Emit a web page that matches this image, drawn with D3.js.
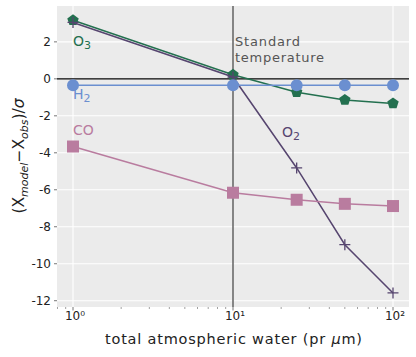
<!DOCTYPE html>
<html>
<head>
<meta charset="utf-8">
<script src="https://cdn.jsdelivr.net/npm/d3@7.9.0/dist/d3.min.js"></script>
<style>
  body { margin: 0; background: #fff; }
  svg text { font-family: "DejaVu Sans", sans-serif; }
</style>
</head>
<body>
<svg id="chart" width="416" height="357"></svg>
<script>
// water column values (pr um)
const water = [1, 10, 25, 50, 100];
const o3 = [3.17, 0.22, -0.72, -1.14, -1.33];
const o2 = [3.05, 0.1, -4.82, -8.97, -11.58];
const h2 = [-0.35, -0.35, -0.35, -0.35, -0.35];
const co = [-3.66, -6.16, -6.54, -6.76, -6.88];
const yTicks = [2, 0, -2, -4, -6, -8, -10, -12];
const xTicks = [1, 10, 100];
const supers = ['⁰', '¹', '²'];

const series = [
    { name: 'O3', values: o3, color: '#23704f', shape: 'pentagon' },
    { name: 'O2', values: o2, color: '#56456f', shape: 'plus' },
    { name: 'H2', values: h2, color: '#6b8fd0', shape: 'circle' },
    { name: 'CO', values: co, color: '#b97c9f', shape: 'square' }
];

const svg = d3.select('#chart');
const margin = { left: 57, right: 7, top: 6, bottom: 50 };
const W = 416, H = 357;

const x = d3.scaleLog()
    .domain([Math.pow(10, -0.1), Math.pow(10, 2.1)])
    .range([margin.left, W - margin.right]);
const y = d3.scaleLinear()
    .domain([-12.34, 3.94])
    .range([H - margin.bottom, margin.top]);

// background
svg.append('rect')
    .attr('x', margin.left).attr('y', margin.top)
    .attr('width', W - margin.left - margin.right)
    .attr('height', H - margin.top - margin.bottom)
    .attr('fill', '#ebebeb');

// grid
svg.selectAll('.gy').data(yTicks).enter().append('line')
    .attr('x1', margin.left).attr('x2', W - margin.right)
    .attr('y1', d => y(d)).attr('y2', d => y(d))
    .attr('stroke', '#fff').attr('stroke-width', 1.1);
svg.selectAll('.gx').data(xTicks).enter().append('line')
    .attr('y1', margin.top).attr('y2', H - margin.bottom)
    .attr('x1', d => x(d)).attr('x2', d => x(d))
    .attr('stroke', '#fff').attr('stroke-width', 1.1);

// y ticks
const yAxis = svg.append('g');
yTicks.forEach(t => {
    yAxis.append('line')
        .attr('x1', margin.left - 3).attr('x2', margin.left)
        .attr('y1', y(t)).attr('y2', y(t))
        .attr('stroke', '#777');
    yAxis.append('text')
        .attr('x', margin.left - 6).attr('y', y(t))
        .attr('dy', '0.36em').attr('text-anchor', 'end')
        .attr('font-size', 12).attr('fill', '#222')
        .text(t < 0 ? '-' + Math.abs(t) : t);
});

// x ticks (major + minor)
const xAxis = svg.append('g');
const minor = [];
for (let e = -1; e <= 2; e++) {
    for (let m = 1; m < 10; m++) {
        const v = m * Math.pow(10, e);
        if (v >= x.domain()[0] && v <= x.domain()[1]) minor.push(v);
    }
}
minor.forEach(v => {
    const major = xTicks.includes(v);
    xAxis.append('line')
        .attr('x1', x(v)).attr('x2', x(v))
        .attr('y1', H - margin.bottom).attr('y2', H - margin.bottom + (major ? 3.5 : 2))
        .attr('stroke', '#777').attr('stroke-width', major ? 1 : 0.7);
});
xTicks.forEach((t, i) => {
    xAxis.append('text')
        .attr('x', x(t) + 2).attr('y', 320)
        .attr('text-anchor', 'middle')
        .attr('font-size', 12).attr('fill', '#222')
        .text('10' + supers[i]);
});

// reference lines
svg.append('line')
    .attr('x1', margin.left).attr('x2', W - margin.right)
    .attr('y1', y(0)).attr('y2', y(0))
    .attr('stroke', '#000').attr('stroke-width', 1.4);
svg.append('line')
    .attr('x1', x(10)).attr('x2', x(10))
    .attr('y1', margin.top).attr('y2', H - margin.bottom)
    .attr('stroke', '#555').attr('stroke-width', 1.4);

const note = svg.append('text')
    .attr('x', x(10) + 3).attr('y', 46)
    .attr('font-size', 13).attr('fill', '#555');
note.append('tspan').attr('x', x(10) + 2).attr('textLength', 65).text('Standard');
note.append('tspan').attr('x', x(10) + 2).attr('dy', 16).attr('textLength', 89).text('temperature');

// series lines + markers
const line = d3.line().x((d, i) => x(water[i])).y(d => y(d));

function pentagon(r) {
    return d3.range(5).map(k => {
        const a = -Math.PI / 2 + k * 2 * Math.PI / 5;
        return [r * Math.cos(a), r * Math.sin(a)];
    });
}

series.forEach(s => {
    svg.append('path')
        .attr('d', line(s.values))
        .attr('fill', 'none')
        .attr('stroke', s.color)
        .attr('stroke-width', 1.5);
    const g = svg.append('g');
    s.values.forEach((v, i) => {
        const cx = x(water[i]), cy = y(v);
        if (s.shape === 'circle') {
            g.append('circle').attr('cx', cx).attr('cy', cy).attr('r', 6).attr('fill', s.color);
        } else if (s.shape === 'square') {
            g.append('rect').attr('x', cx - 6).attr('y', cy - 6)
                .attr('width', 12).attr('height', 12).attr('fill', s.color);
        } else if (s.shape === 'pentagon') {
            g.append('polygon')
                .attr('points', pentagon(6).map(p => [cx + p[0], cy + p[1]].join(',')).join(' '))
                .attr('fill', s.color);
        } else {
            g.append('path')
                .attr('d', `M${cx - 5.5},${cy}H${cx + 5.5}M${cx},${cy - 5.5}V${cy + 5.5}`)
                .attr('stroke', s.color).attr('stroke-width', 1.3);
        }
    });
});

// series labels
const labels = [
    { base: 'O', sub: '3', x: 73, y: 46, color: '#23704f' },
    { base: 'H', sub: '2', x: 73, y: 99, color: '#6b8fd0' },
    { base: 'CO', sub: '', x: 73, y: 135, color: '#b97c9f' },
    { base: 'O', sub: '2', x: 282, y: 137, color: '#56456f' }
];
labels.forEach(l => {
    const t = svg.append('text')
        .attr('x', l.x).attr('y', l.y)
        .attr('font-size', 14).attr('fill', l.color);
    t.append('tspan').text(l.base);
    if (l.sub) t.append('tspan').attr('dy', 3).attr('font-size', 11).text(l.sub);
});

// axis labels
svg.append('text')
    .attr('x', 105)
    .attr('y', 344)
    .attr('textLength', 257)
    .attr('font-size', 14.5).attr('fill', '#222')
    .html('total atmospheric water (pr <tspan font-style="italic">μ</tspan>m)');

const yl = svg.append('text')
    .attr('transform', 'translate(24, 156) rotate(-90)')
    .attr('text-anchor', 'middle')
    .attr('font-size', 15.5).attr('fill', '#222');
yl.append('tspan').text('(X');
yl.append('tspan').attr('dy', 4).attr('font-size', 11).attr('font-style', 'italic').text('model');
yl.append('tspan').attr('dy', -4).text('−X');
yl.append('tspan').attr('dy', 4).attr('font-size', 11).attr('font-style', 'italic').text('obs');
yl.append('tspan').attr('dy', -4).text(')/');
yl.append('tspan').attr('font-style', 'italic').text('σ');
</script>
</body>
</html>
